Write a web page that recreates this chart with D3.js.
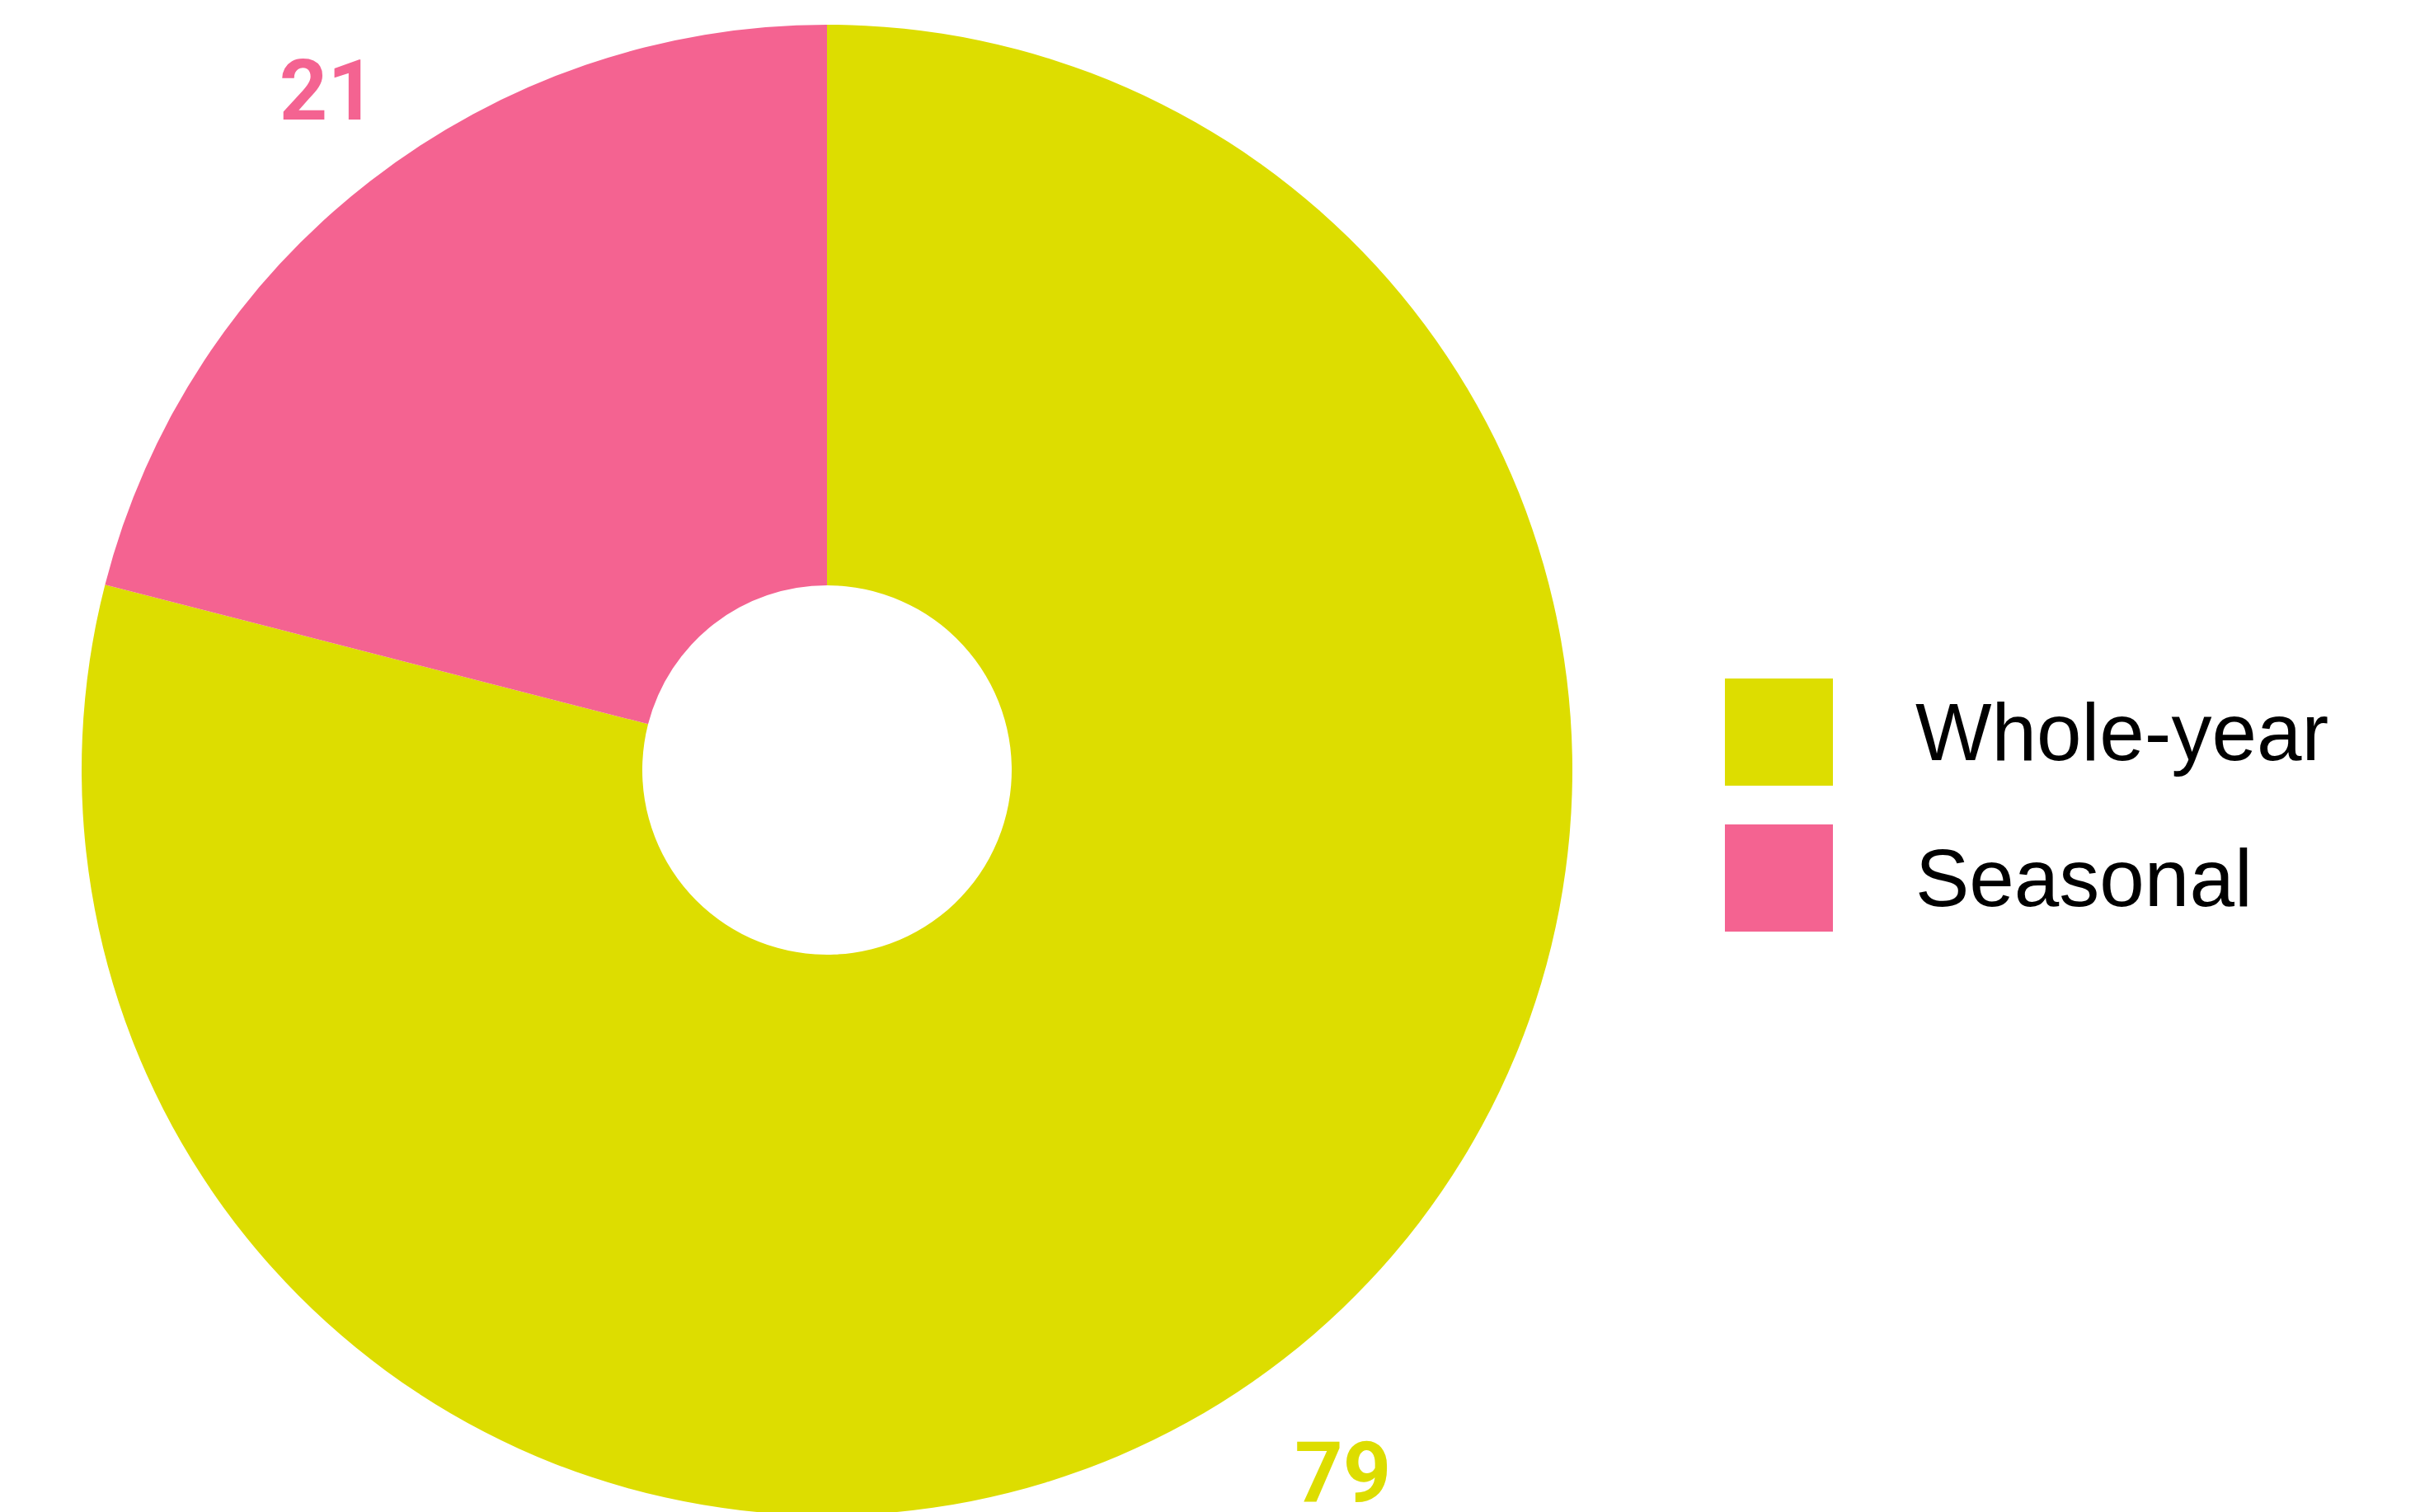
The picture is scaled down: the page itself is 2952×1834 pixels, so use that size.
<!DOCTYPE html>
<html>
<head>
<meta charset="utf-8">
<script src="https://cdn.jsdelivr.net/npm/d3@7"></script>
<style>
  html, body { margin: 0; padding: 0; background: #fff; }
  svg { display: block; }
</style>
</head>
<body>
<div id="chart"></div>
<script>
const categories = ['Whole-year', 'Seasonal'];
const values = [79, 21];
const colors = ['#dddd00', '#f46391'];

function drawDonut(widthBase, heightBase) {
    var cx = 1003, cy = 934,
        outerR = 904, innerR = 224, labelR = 1040;
    var labelTurn = 0.026;   // labels sit a touch clockwise of the slice middle

    var svg = d3.select('#chart').append('svg')
        .attr('width', widthBase)
        .attr('height', heightBase)
        .style('font-family', '"Liberation Sans", Arial, sans-serif');

    var color = d3.scaleOrdinal().domain(categories).range(colors);

    var pie = d3.pie().sort(null).value(function(d) { return d.value; });
    var data = categories.map(function(c, i) { return {key: c, value: values[i]}; });

    var arc = d3.arc().innerRadius(innerR).outerRadius(outerR);
    var labelArc = d3.arc().innerRadius(labelR).outerRadius(labelR)
        .startAngle(function(d) { return d.startAngle + labelTurn; })
        .endAngle(function(d) { return d.endAngle + labelTurn; });

    var g = svg.append('g').attr('transform', 'translate(' + cx + ',' + cy + ')');

    g.selectAll('path')
        .data(pie(data))
        .enter().append('path')
        .attr('d', arc)
        .attr('fill', function(d) { return color(d.data.key); });

    // value labels outside the ring
    g.selectAll('.lbl')
        .data(pie(data))
        .enter().append('text')
        .attr('class', 'lbl')
        .attr('x', function(d) { return labelArc.centroid(d)[0] + 10; })
        .attr('y', function(d) { return labelArc.centroid(d)[1] + 13; })
        .attr('dy', '0.35em')
        .attr('text-anchor', 'middle')
        .attr('font-family', 'Roboto, "Liberation Sans", sans-serif')
        .attr('font-size', '102px')
        .attr('font-weight', 'bold')
        .attr('fill', function(d) { return color(d.data.key); })
        .text(function(d) { return d.data.value; });

    // legend
    var legend = svg.append('g').attr('transform', 'translate(2092,823)');
    var item = legend.selectAll('.item')
        .data(categories)
        .enter().append('g')
        .attr('class', 'item')
        .attr('transform', function(d, i) { return 'translate(0,' + (i * 177) + ')'; });

    item.append('rect')
        .attr('width', 131)
        .attr('height', 130)
        .attr('fill', function(d) { return color(d); });

    item.append('text')
        .attr('x', 231)
        .attr('y', 65)
        .attr('dy', '0.35em')
        .attr('font-size', '98px')
        .attr('fill', '#000')
        .text(function(d) { return d; });
}

drawDonut(2952, 1834);
</script>
</body>
</html>
